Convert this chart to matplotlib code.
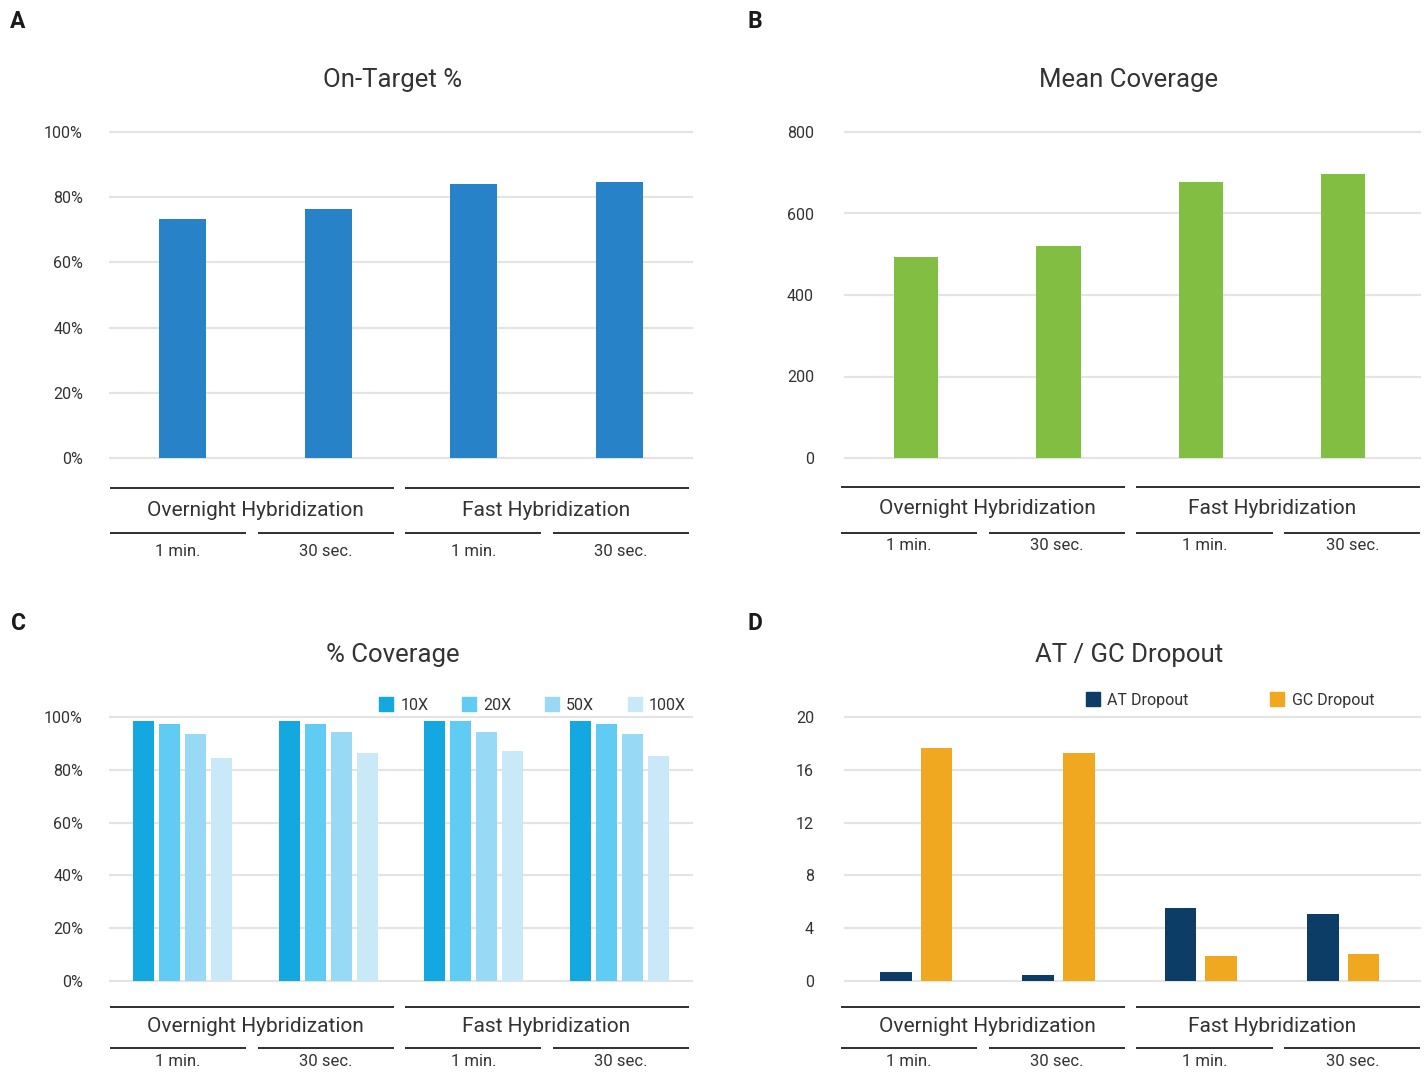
import matplotlib
matplotlib.use("Agg")
import matplotlib.pyplot as plt
import matplotlib.transforms as mtransforms
from matplotlib.patches import Patch
import numpy as np

plt.rcParams['font.family'] = ['Roboto', 'DejaVu Sans']

# ---- data ----
groups = ["Overnight Hybridization", "Fast Hybridization"]
conditions = ["1 min.", "30 sec.", "1 min.", "30 sec."]

on_target = [73.2, 76.5, 83.9, 84.8]
on_target_ticks = [0, 20, 40, 60, 80, 100]

mean_coverage = [494, 520, 677, 697]
mean_coverage_ticks = [0, 200, 400, 600, 800]

depth_levels = ["10X", "20X", "50X", "100X"]
cov_10x = [98.5, 98.5, 98.5, 98.5]
cov_20x = [97.5, 97.5, 98.5, 97.5]
cov_50x = [93.4, 94.4, 94.4, 93.4]
cov_100x = [84.3, 86.3, 87.3, 85.3]
pct_cov_ticks = [0, 20, 40, 60, 80, 100]

dropout_names = ["AT Dropout", "GC Dropout"]
at_dropout = [0.68, 0.46, 5.52, 5.11]
gc_dropout = [17.67, 17.27, 1.87, 2.08]
dropout_ticks = [0, 4, 8, 12, 16, 20]

# ---- styling ----
W, H = 1424, 1072
TEXT = "#333333"
GRID = "#e4e4e4"
LINE = "#1f1f1f"
BLUE = "#2882c8"
GREEN = "#82be41"
COV_COLORS = ["#14a8e0", "#60cbf3", "#98d9f5", "#cae9f8"]
AT_COLOR = "#0b3d66"
GC_COLOR = "#f0a820"
PT = 72 / 100  # points per pixel at 100 dpi

fig = plt.figure(figsize=(W / 100, H / 100), dpi=100)
fig.patch.set_facecolor("white")


def px_axes(left, top, right, bottom):
    return fig.add_axes([left / W, 1 - bottom / H, (right - left) / W, (bottom - top) / H])


def style_axes(ax, ticks, labels, ymax, pad_px, xmax=3.5):
    ax.set_xlim(-0.5, xmax)
    ax.set_ylim(0, ymax)
    ax.set_yticks(ticks)
    ax.set_yticklabels(labels)
    ax.set_xticks([])
    for s in ax.spines.values():
        s.set_visible(False)
    ax.tick_params(axis="y", length=0, pad=pad_px * PT, labelsize=11.5, labelcolor=TEXT)
    ax.grid(axis="y", color=GRID, linewidth=1.6)
    ax.set_axisbelow(True)
    for gl in ax.get_ygridlines():
        gl.set_clip_on(False)


def category_axis(ax, y_group_line, y_group_label, y_sub_line, y_sub_label,
                  shift=0.0, seg_step=1.015, seg_w=0.935):
    tr = mtransforms.blended_transform_factory(ax.transData, fig.transFigure)
    fy = lambda y: 1 - y / H
    starts = [i * seg_step - 0.5 + shift for i in range(len(conditions))]
    for g, name in enumerate(groups):
        x0, x1 = starts[2 * g], starts[2 * g + 1] + seg_w
        ax.plot([x0, x1], [fy(y_group_line)] * 2, color=LINE, lw=1.3,
                transform=tr, clip_on=False, solid_capstyle="butt")
        ax.text(2 * g + 0.5, fy(y_group_label), name, transform=tr,
                ha="center", va="center", fontsize=15, color=TEXT)
    for i, cond in enumerate(conditions):
        x0, x1 = starts[i], starts[i] + seg_w
        ax.plot([x0, x1], [fy(y_sub_line)] * 2, color=LINE, lw=1.3,
                transform=tr, clip_on=False, solid_capstyle="butt")
        ax.text((x0 + x1) / 2, fy(y_sub_label), cond, transform=tr,
                ha="center", va="center", fontsize=12, color=TEXT)


x = np.arange(len(conditions))

# ---- A: On-Target % ----
axA = px_axes(110, 132, 692, 458)
axA.bar(x, on_target, width=0.32, color=BLUE, zorder=2)
style_axes(axA, on_target_ticks, [f"{t}%" for t in on_target_ticks], 100, 27)
category_axis(axA, 488, 511, 533, 551)

# ---- B: Mean Coverage ----
axB = px_axes(845, 132, 1420, 458)
axB.bar(x, mean_coverage, width=0.31, color=GREEN, zorder=2)
style_axes(axB, mean_coverage_ticks, [str(t) for t in mean_coverage_ticks], 800, 31, xmax=3.54)
category_axis(axB, 487, 509, 533, 545, shift=-0.028, seg_step=1.038, seg_w=0.956)

# ---- C: % Coverage ----
axC = px_axes(110, 717, 692, 981)
cov_series = [cov_10x, cov_20x, cov_50x, cov_100x]
step, bw = 0.179, 0.144
for k, (vals, col) in enumerate(zip(cov_series, COV_COLORS)):
    axC.bar(x + (k - 1.5) * step, vals, width=bw, color=col, zorder=2, label=depth_levels[k])
style_axes(axC, pct_cov_ticks, [f"{t}%" for t in pct_cov_ticks], 100, 27)
category_axis(axC, 1007, 1027, 1048, 1062)
axC.legend(handles=[Patch(color=c, label=l) for c, l in zip(COV_COLORS, depth_levels)],
           ncol=4, loc="center right", bbox_to_anchor=(686 / W, 1 - 705 / H),
           bbox_transform=fig.transFigure, frameon=False, fontsize=11.5,
           handlelength=0.88, handleheight=0.88, handletextpad=0.45,
           columnspacing=2.1, borderpad=0, borderaxespad=0, labelcolor=TEXT)

# ---- D: AT / GC Dropout ----
axD = px_axes(845, 717, 1420, 981)
step, bw = 0.285, 0.222
axD.bar(x - step / 2, at_dropout, width=bw, color=AT_COLOR, zorder=2, label=dropout_names[0])
axD.bar(x + step / 2, gc_dropout, width=bw, color=GC_COLOR, zorder=2, label=dropout_names[1])
style_axes(axD, dropout_ticks, [str(t) for t in dropout_ticks], 20, 31, xmax=3.54)
category_axis(axD, 1007, 1027, 1048, 1062, shift=-0.028, seg_step=1.038, seg_w=0.956)
axD.legend(handles=[Patch(color=AT_COLOR, label=dropout_names[0]),
                    Patch(color=GC_COLOR, label=dropout_names[1])],
           ncol=2, loc="center right", bbox_to_anchor=(1374 / W, 1 - 700 / H),
           bbox_transform=fig.transFigure, frameon=False, fontsize=11.5,
           handlelength=0.88, handleheight=0.88, handletextpad=0.45,
           columnspacing=5.1, borderpad=0, borderaxespad=0, labelcolor=TEXT)

# ---- titles and panel letters ----
titles = [("On-Target %", 393, 80), ("Mean Coverage", 1129, 80),
          ("% Coverage", 393, 655), ("AT / GC Dropout", 1129, 655)]
for t, tx, ty in titles:
    fig.text(tx / W, 1 - ty / H, t, ha="center", va="center", fontsize=18.5,
             color=TEXT)

for letter, lx, ly in [("A", 18, 22), ("B", 755, 22), ("C", 18, 624), ("D", 755, 624)]:
    fig.text(lx / W, 1 - ly / H, letter, ha="center", va="center", fontsize=16.5,
             fontweight="bold", color="#1a1a1a")

fig.savefig("out.png", dpi=100, facecolor="white")
